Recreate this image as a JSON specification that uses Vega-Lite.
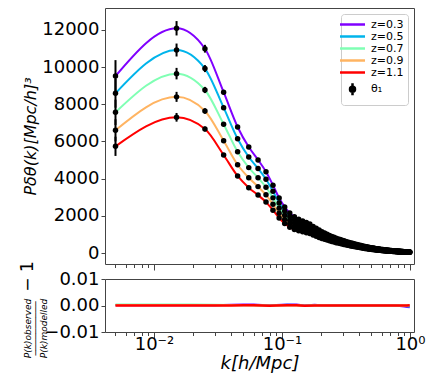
{
  "$schema": "https://vega.github.io/schema/vega-lite/v6.json",
  "padding": {"left": 17, "top": 7, "right": 5, "bottom": 5},
  "background": "white",
  "config": {
    "font": "DejaVu Sans",
    "view": {"stroke": "#444", "strokeWidth": 1},
    "axis": {"domain": false, "grid": false, "tickColor": "#444", "labelColor": "black", "titleColor": "black", "labelFontSize": 18, "titleFontWeight": "normal", "labelFont": "DejaVu Sans", "titleFont": "DejaVu Sans"}
  },
  "datasets": {
    "pk": [
      {"k":0.005,"a":9520,"b":8590,"c":7570,"d":6600,"e":5740},
      {"k":0.015,"a":12090,"b":10920,"c":9650,"d":8400,"e":7300},
      {"k":0.025,"a":10990,"b":9920,"c":8770,"d":7640,"e":6670},
      {"k":0.035,"a":8650,"b":7820,"c":6930,"d":6040,"e":5275},
      {"k":0.045,"a":6780,"b":6150,"c":5450,"d":4750,"e":4145},
      {"k":0.055,"a":5700,"b":5164,"c":4594,"d":4047,"e":3517},
      {"k":0.065,"a":5010,"b":4544,"c":4048,"d":3572,"e":3116},
      {"k":0.075,"a":4370,"b":3968,"c":3540,"d":3129,"e":2740},
      {"k":0.085,"a":3650,"b":3318,"c":2967,"d":2624,"e":2307},
      {"k":0.095,"a":2960,"b":2694,"c":2415,"d":2137,"e":1886},
      {"k":0.105,"a":2480,"b":2259,"c":2031,"d":1800,"e":1592},
      {"k":0.115,"a":2150,"b":1961,"c":1767,"d":1570,"e":1391},
      {"k":0.125,"a":1950,"b":1780,"c":1609,"d":1431,"e":1271},
      {"k":0.135,"a":1820,"b":1663,"c":1505,"d":1341,"e":1196},
      {"k":0.145,"a":1720,"b":1574,"c":1426,"d":1273,"e":1139},
      {"k":0.155,"a":1640,"b":1502,"c":1363,"d":1219,"e":1094},
      {"k":0.165,"a":1560,"b":1431,"c":1299,"d":1164,"e":1047},
      {"k":0.175,"a":1434,"b":1316,"c":1197,"d":1074,"e":968},
      {"k":0.185,"a":1328,"b":1220,"c":1110,"d":997,"e":900},
      {"k":0.195,"a":1233,"b":1134,"c":1032,"d":928,"e":840},
      {"k":0.205,"a":1149,"b":1058,"c":963,"d":867,"e":786},
      {"k":0.215,"a":1075,"b":991,"c":902,"d":814,"e":739},
      {"k":0.225,"a":1009,"b":931,"c":848,"d":766,"e":695},
      {"k":0.235,"a":949,"b":877,"c":798,"d":722,"e":656},
      {"k":0.245,"a":895,"b":828,"c":754,"d":683,"e":620},
      {"k":0.255,"a":847,"b":784,"c":715,"d":648,"e":589},
      {"k":0.265,"a":802,"b":743,"c":678,"d":615,"e":559},
      {"k":0.275,"a":762,"b":707,"c":646,"d":585,"e":533},
      {"k":0.285,"a":725,"b":674,"c":616,"d":558,"e":508},
      {"k":0.295,"a":690,"b":642,"c":587,"d":531,"e":483},
      {"k":0.305,"a":658,"b":612,"c":559,"d":507,"e":461},
      {"k":0.315,"a":627,"b":583,"c":533,"d":483,"e":439},
      {"k":0.325,"a":598,"b":556,"c":508,"d":460,"e":419},
      {"k":0.335,"a":571,"b":531,"c":485,"d":440,"e":400},
      {"k":0.345,"a":545,"b":507,"c":463,"d":420,"e":382},
      {"k":0.355,"a":520,"b":484,"c":442,"d":400,"e":364},
      {"k":0.365,"a":497,"b":462,"c":422,"d":383,"e":348},
      {"k":0.375,"a":475,"b":442,"c":404,"d":366,"e":333},
      {"k":0.385,"a":455,"b":423,"c":387,"d":350,"e":319},
      {"k":0.395,"a":435,"b":405,"c":370,"d":335,"e":305},
      {"k":0.405,"a":417,"b":388,"c":354,"d":321,"e":292},
      {"k":0.415,"a":399,"b":371,"c":339,"d":307,"e":279},
      {"k":0.425,"a":383,"b":356,"c":326,"d":295,"e":268},
      {"k":0.435,"a":367,"b":341,"c":312,"d":283,"e":257},
      {"k":0.445,"a":352,"b":327,"c":299,"d":271,"e":246},
      {"k":0.455,"a":338,"b":314,"c":287,"d":260,"e":237},
      {"k":0.465,"a":324,"b":301,"c":275,"d":249,"e":227},
      {"k":0.475,"a":311,"b":289,"c":264,"d":239,"e":218},
      {"k":0.485,"a":299,"b":278,"c":254,"d":230,"e":209},
      {"k":0.495,"a":287,"b":267,"c":244,"d":221,"e":201},
      {"k":0.505,"a":276,"b":257,"c":235,"d":213,"e":193},
      {"k":0.515,"a":266,"b":247,"c":226,"d":205,"e":186},
      {"k":0.525,"a":256,"b":238,"c":218,"d":197,"e":179},
      {"k":0.535,"a":246,"b":229,"c":209,"d":189,"e":172},
      {"k":0.545,"a":237,"b":220,"c":201,"d":182,"e":166},
      {"k":0.555,"a":228,"b":212,"c":194,"d":176,"e":160},
      {"k":0.565,"a":220,"b":205,"c":187,"d":169,"e":154},
      {"k":0.575,"a":212,"b":197,"c":180,"d":163,"e":148},
      {"k":0.585,"a":204,"b":190,"c":173,"d":157,"e":143},
      {"k":0.595,"a":197,"b":183,"c":167,"d":152,"e":138},
      {"k":0.605,"a":190,"b":177,"c":162,"d":146,"e":133},
      {"k":0.615,"a":184,"b":171,"c":156,"d":142,"e":129},
      {"k":0.625,"a":177,"b":165,"c":150,"d":136,"e":124},
      {"k":0.635,"a":171,"b":159,"c":145,"d":132,"e":120},
      {"k":0.645,"a":165,"b":153,"c":140,"d":127,"e":116},
      {"k":0.655,"a":160,"b":149,"c":136,"d":123,"e":112},
      {"k":0.665,"a":154,"b":143,"c":131,"d":119,"e":108},
      {"k":0.675,"a":149,"b":139,"c":127,"d":115,"e":104},
      {"k":0.685,"a":144,"b":134,"c":122,"d":111,"e":101},
      {"k":0.695,"a":140,"b":130,"c":119,"d":108,"e":98},
      {"k":0.705,"a":135,"b":126,"c":115,"d":104,"e":95},
      {"k":0.715,"a":131,"b":122,"c":111,"d":101,"e":92},
      {"k":0.725,"a":127,"b":118,"c":108,"d":98,"e":89},
      {"k":0.735,"a":123,"b":114,"c":105,"d":95,"e":86},
      {"k":0.745,"a":119,"b":111,"c":101,"d":92,"e":83},
      {"k":0.755,"a":115,"b":107,"c":98,"d":89,"e":81},
      {"k":0.765,"a":112,"b":104,"c":95,"d":86,"e":78},
      {"k":0.775,"a":108,"b":100,"c":92,"d":83,"e":76},
      {"k":0.785,"a":105,"b":98,"c":89,"d":81,"e":74},
      {"k":0.795,"a":102,"b":95,"c":87,"d":79,"e":71},
      {"k":0.805,"a":99,"b":92,"c":84,"d":76,"e":69},
      {"k":0.815,"a":96,"b":89,"c":82,"d":74,"e":67},
      {"k":0.825,"a":93,"b":86,"c":79,"d":72,"e":65},
      {"k":0.835,"a":90,"b":84,"c":77,"d":69,"e":63},
      {"k":0.845,"a":88,"b":82,"c":75,"d":68,"e":62},
      {"k":0.855,"a":85,"b":79,"c":72,"d":65,"e":60},
      {"k":0.865,"a":83,"b":77,"c":71,"d":64,"e":58},
      {"k":0.875,"a":80,"b":74,"c":68,"d":62,"e":56},
      {"k":0.885,"a":78,"b":73,"c":66,"d":60,"e":55},
      {"k":0.895,"a":76,"b":71,"c":65,"d":59,"e":53},
      {"k":0.905,"a":74,"b":69,"c":63,"d":57,"e":52},
      {"k":0.915,"a":72,"b":67,"c":61,"d":55,"e":50},
      {"k":0.925,"a":70,"b":65,"c":60,"d":54,"e":49},
      {"k":0.935,"a":68,"b":63,"c":58,"d":52,"e":48},
      {"k":0.945,"a":66,"b":61,"c":56,"d":51,"e":46},
      {"k":0.955,"a":64,"b":60,"c":54,"d":49,"e":45},
      {"k":0.965,"a":62,"b":58,"c":53,"d":48,"e":43},
      {"k":0.975,"a":61,"b":57,"c":52,"d":47,"e":43},
      {"k":0.985,"a":59,"b":55,"c":50,"d":45,"e":41},
      {"k":0.995,"a":58,"b":54,"c":49,"d":45,"e":41}
    ],
    "err": [
      {"k":0.005,"lo":8663,"hi":10377},{"k":0.005,"lo":7817,"hi":9363},{"k":0.005,"lo":6889,"hi":8251},{"k":0.005,"lo":6006,"hi":7194},{"k":0.005,"lo":5223,"hi":6257},
      {"k":0.015,"lo":11703,"hi":12477},{"k":0.015,"lo":10571,"hi":11269},{"k":0.015,"lo":9341,"hi":9959},{"k":0.015,"lo":8131,"hi":8669},{"k":0.015,"lo":7066,"hi":7534},
      {"k":0.025,"lo":10781,"hi":11199},{"k":0.025,"lo":9732,"hi":10108},{"k":0.025,"lo":8603,"hi":8937},{"k":0.025,"lo":7495,"hi":7785},{"k":0.025,"lo":6543,"hi":6797},
      {"k":0.035,"lo":8532,"hi":8768},{"k":0.035,"lo":7714,"hi":7926},{"k":0.035,"lo":6836,"hi":7024},{"k":0.035,"lo":5958,"hi":6122},{"k":0.035,"lo":5203,"hi":5347},
      {"k":0.045,"lo":6709,"hi":6851},{"k":0.045,"lo":6085,"hi":6215},{"k":0.045,"lo":5393,"hi":5507},{"k":0.045,"lo":4700,"hi":4800},{"k":0.045,"lo":4101,"hi":4189}
    ],
    "res": [
      {"k":0.005,"a":0.0001,"b":0.0002,"c":0.0004,"d":0.0002,"e":0},
      {"k":0.01,"a":0.0001,"b":0.0002,"c":0.0004,"d":0.0002,"e":0},
      {"k":0.02,"a":0.0001,"b":0.0002,"c":0.0004,"d":0.0002,"e":0},
      {"k":0.03,"a":0.0001,"b":0.0001,"c":0.0003,"d":0.0001,"e":0},
      {"k":0.04,"a":0.0003,"b":0.0002,"c":0.0002,"d":0.0001,"e":0},
      {"k":0.05,"a":0.0004,"b":0.0002,"c":0.0001,"d":0.0001,"e":0.0001},
      {"k":0.06,"a":0.0004,"b":0.0002,"c":0.0001,"d":0,"e":0.0001},
      {"k":0.07,"a":0.0002,"b":0.0001,"c":0,"d":0,"e":0},
      {"k":0.08,"a":0.0001,"b":0,"c":-0.0001,"d":0,"e":-0.0001},
      {"k":0.09,"a":0.0002,"b":0.0001,"c":0,"d":0,"e":0},
      {"k":0.11,"a":0.0004,"b":0.0003,"c":0.0001,"d":0.0001,"e":0.0001},
      {"k":0.13,"a":0.0004,"b":0.0002,"c":0.0001,"d":0,"e":0.0001},
      {"k":0.15,"a":0,"b":-0.0001,"c":-0.0001,"d":-0.0001,"e":-0.0001},
      {"k":0.18,"a":0.0003,"b":0.0002,"c":0.0001,"d":0,"e":0},
      {"k":0.2,"a":0.0001,"b":0.0001,"c":0,"d":0,"e":0},
      {"k":0.25,"a":0,"b":0,"c":0,"d":0,"e":0},
      {"k":0.3,"a":0.0001,"b":0,"c":0,"d":0,"e":0},
      {"k":0.4,"a":0.0001,"b":0,"c":0,"d":0,"e":0},
      {"k":0.5,"a":0,"b":0,"c":0,"d":0,"e":0},
      {"k":0.6,"a":0.0001,"b":0,"c":0,"d":0,"e":0},
      {"k":0.7,"a":0,"b":0,"c":0,"d":0,"e":0},
      {"k":0.8,"a":-0.0001,"b":0,"c":0,"d":0,"e":0},
      {"k":0.9,"a":-0.0004,"b":-0.0002,"c":0,"d":0,"e":0},
      {"k":0.95,"a":-0.0006,"b":-0.0003,"c":0,"d":0,"e":0},
      {"k":0.995,"a":-0.0007,"b":-0.0005,"c":0.0001,"d":0.0002,"e":0.0001}
    ]
  },
  "bounds": "flush",
  "spacing": 15,
  "resolve": {"scale": {"color": "independent"}, "legend": {"color": "independent"}},
  "vconcat": [
    {
      "width": 309,
      "height": 256,
      "layer": [
        {
          "data": {"name": "pk"},
          "transform": [{"fold": ["a","b","c","d","e"], "as": ["zk","P"]}],
          "mark": {"type": "line", "strokeWidth": 2, "interpolate": "monotone"},
          "encoding": {
            "x": {"field": "k", "type": "quantitative", "scale": {"type": "log", "domain": [0.00414, 1.075], "nice": false},
              "axis": {"title": null, "labels": false, "values": [0.005,0.006,0.007,0.008,0.009,0.01,0.02,0.03,0.04,0.05,0.06,0.07,0.08,0.09,0.1,0.2,0.3,0.4,0.5,0.6,0.7,0.8,0.9,1],
                "tickSize": {"condition": {"test": "datum.value == 0.01 || datum.value == 0.1 || datum.value == 1", "value": 6}, "value": 3.5}}},
            "y": {"field": "P", "type": "quantitative", "scale": {"domain": [-590, 13180], "nice": false, "zero": false},
              "axis": {"values": [0,2000,4000,6000,8000,10000,12000], "format": "d", "tickSize": 4, "labelPadding": 2,
                "title": "Pδθ(k)[Mpc/h]³", "titleFontSize": 16, "titleFontStyle": "italic", "titlePadding": 3}},
            "color": {"field": "zk", "type": "nominal",
              "scale": {"domain": ["a","b","c","d","e","t"], "range": ["#8000ff","#00b4eb","#80ffb4","#ffb462","#ff0000","black"]},
              "legend": {"orient": "top-right", "offset": 6, "title": null,
                "labelExpr": "datum.value=='a'?'z=0.3':datum.value=='b'?'z=0.5':datum.value=='c'?'z=0.7':datum.value=='d'?'z=0.9':datum.value=='e'?'z=1.1':'θ₁'",
                "labelFontSize": 11, "labelColor": "black", "symbolSize": 100, "symbolStrokeWidth": 2.5, "symbolOffset": 1,
                "strokeColor": "#ccc", "fillColor": "white", "padding": 4, "cornerRadius": 3, "labelOffset": 12, "rowPadding": -0.3,
                "encode": {"symbols": {"update": {
                  "shape": {"signal": "datum.value === 't' ? 'M0,-1.2V1.2M0.5,0A0.5,0.5,0,1,1,-0.5,0A0.5,0.5,0,1,1,0.5,0Z' : 'M-2.5,0H2.5'"},
                  "fill": {"signal": "datum.value === 't' ? 'black' : 'transparent'"}
                }}}}}
          }
        },
        {
          "data": {"name": "err"},
          "mark": {"type": "rule", "strokeWidth": 2, "color": "black"},
          "encoding": {
            "x": {"field": "k", "type": "quantitative"},
            "y": {"field": "lo", "type": "quantitative"},
            "y2": {"field": "hi"}
          }
        },
        {
          "data": {"name": "pk"},
          "transform": [{"fold": ["a","b","c","d","e"], "as": ["zk","P"]}],
          "mark": {"type": "point", "filled": true, "size": 30, "opacity": 1},
          "encoding": {
            "x": {"field": "k", "type": "quantitative"},
            "y": {"field": "P", "type": "quantitative"},
            "color": {"datum": "t", "type": "nominal"}
          }
        }
      ]
    },
    {
      "width": 309,
      "height": 53,
      "data": {"name": "res"},
      "transform": [{"fold": ["a","b","c","d","e"], "as": ["zk","R"]}],
      "layer": [
        {
          "transform": [{"filter": "datum.zk != 'e'"}],
          "mark": {"type": "line", "strokeWidth": 2},
          "encoding": {
            "x": {"field": "k", "type": "quantitative", "scale": {"type": "log", "domain": [0.00414, 1.075], "nice": false},
              "axis": {"title": "k[h/Mpc]", "titleFontSize": 18, "titleFontStyle": "italic", "titlePadding": 1, "labelPadding": -3, "labelOverlap": false, "labelFlush": false,
                "values": [0.005,0.006,0.007,0.008,0.009,0.01,0.02,0.03,0.04,0.05,0.06,0.07,0.08,0.09,0.1,0.2,0.3,0.4,0.5,0.6,0.7,0.8,0.9,1],
                "labelExpr": "datum.value == 0.01 ? '10⁻²' : datum.value == 0.1 ? '10⁻¹' : datum.value == 1 ? '10⁰' : ''",
                "tickSize": {"condition": {"test": "datum.value == 0.01 || datum.value == 0.1 || datum.value == 1", "value": 6}, "value": 3.5}}},
            "y": {"field": "R", "type": "quantitative", "scale": {"domain": [-0.01, 0.01], "nice": false},
              "axis": {"values": [-0.01, 0, 0.01], "format": ".2f", "tickSize": 4, "labelPadding": 2,
                "title": ["P(k)observed", "──────────", "P(k)modelled"], "titleFontSize": 9, "titleLineHeight": 8.2, "titleFontStyle": "italic",
                "titleAngle": -90, "titleAlign": "center", "titleBaseline": "middle", "titleX": -78, "titleY": 49}},
            "color": {"field": "zk", "type": "nominal", "scale": {"domain": ["a","b","c","d","e"], "range": ["#8000ff","#00b4eb","#80ffb4","#ffb462","#ff0000"]}, "legend": null}
          }
        },
        {
          "transform": [{"filter": "datum.zk == 'e'"}],
          "mark": {"type": "line", "strokeWidth": 2.5, "color": "#ff0000"},
          "encoding": {
            "x": {"field": "k", "type": "quantitative"},
            "y": {"field": "R", "type": "quantitative", "scale": {"domain": [-0.01, 0.01], "nice": false},
              "axis": {"orient": "left", "title": "− 1", "labels": false, "ticks": false, "domain": false,
                "titleFontSize": 17, "titleAngle": -90, "titleAlign": "center", "titleBaseline": "middle", "titleX": -78, "titleY": -3}}
          }
        }
      ],
      "resolve": {"scale": {"y": "independent"}}
    }
  ]
}
